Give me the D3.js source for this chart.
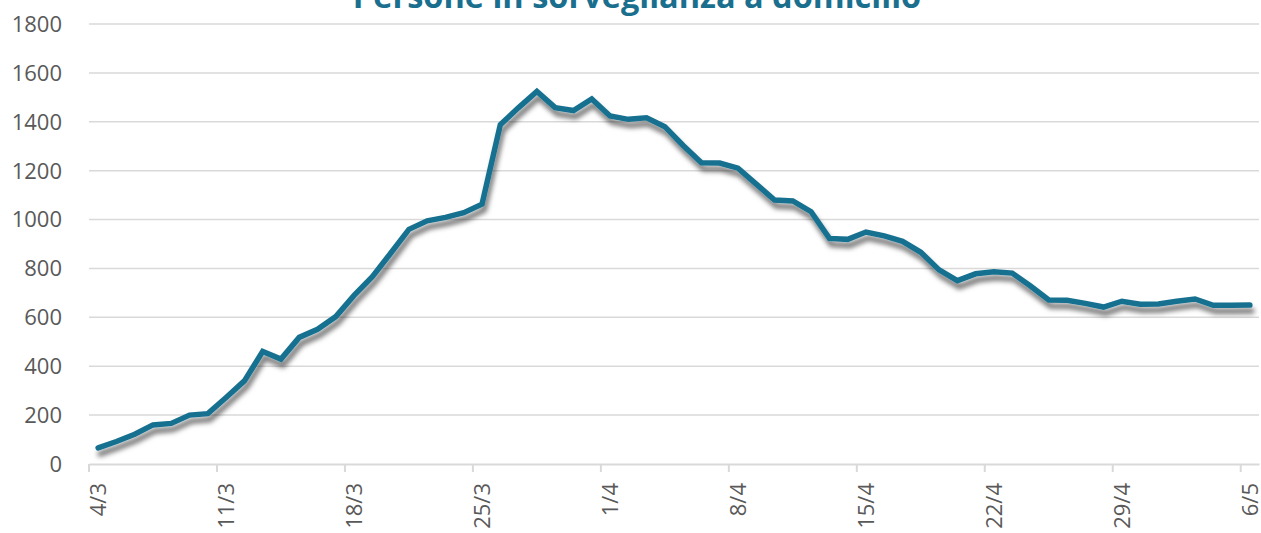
<!DOCTYPE html>
<html>
<head>
<meta charset="utf-8">
<script src="https://cdn.jsdelivr.net/npm/d3@7/dist/d3.min.js"></script>
<style>
  html, body { margin: 0; padding: 0; background: #ffffff; }
  svg { display: block; }
</style>
</head>
<body>
<svg id="chart" width="1261" height="533"></svg>
<script>
const title = "Persone in sorveglianza a domicilio";

const dates = [
  "4/3","5/3","6/3","7/3","8/3","9/3","10/3","11/3","12/3","13/3","14/3","15/3","16/3","17/3",
  "18/3","19/3","20/3","21/3","22/3","23/3","24/3","25/3","26/3","27/3","28/3","29/3","30/3","31/3",
  "1/4","2/4","3/4","4/4","5/4","6/4","7/4","8/4","9/4","10/4","11/4","12/4","13/4","14/4",
  "15/4","16/4","17/4","18/4","19/4","20/4","21/4","22/4","23/4","24/4","25/4","26/4","27/4","28/4",
  "29/4","30/4","1/5","2/5","3/5","4/5","5/5","6/5"
];

const values = [
  66, 92, 122, 160, 166, 200, 206, 272, 340, 460, 429, 518, 551, 603,
  690, 766, 862, 960, 995, 1009, 1028, 1063, 1388, 1458, 1524, 1458, 1446, 1493,
  1424, 1410, 1416, 1380, 1303, 1232, 1231, 1210, 1145, 1080, 1076, 1032, 923, 919,
  949, 933, 911, 866, 794, 750, 778, 786, 781, 728, 671, 670, 657, 642,
  666, 654, 655, 666, 675, 649, 649, 650
];

const yTicks = [0, 200, 400, 600, 800, 1000, 1200, 1400, 1600, 1800];
const xLabels = ["4/3","11/3","18/3","25/3","1/4","8/4","15/4","22/4","29/4","6/5"];

const svg = d3.select("#chart");
const margin = { left: 89, right: 2, top: 24, bottom: 69 };
const W = 1261, H = 533;

const x = d3.scaleBand().domain(dates).range([margin.left, W - margin.right]).paddingInner(0).paddingOuter(0);
const y = d3.scaleLinear().domain([0, 1800]).range([H - margin.bottom, margin.top]);

const defs = svg.append("defs");
const f = defs.append("filter").attr("id", "shadow")
  .attr("x", "-5%").attr("y", "-10%").attr("width", "110%").attr("height", "125%");
f.append("feDropShadow").attr("dx", 2).attr("dy", 6).attr("stdDeviation", 2.6)
  .attr("flood-color", "#000").attr("flood-opacity", 0.55);

const gridColor = "#d9d9d9";
const textColor = "#595959";
const font = "'Open Sans', 'Noto Sans', sans-serif";

// Gridlines
svg.append("g").selectAll("line").data(yTicks.filter(d => d > 0)).join("line")
  .attr("x1", margin.left).attr("x2", W - margin.right)
  .attr("y1", d => y(d)).attr("y2", d => y(d))
  .attr("stroke", gridColor).attr("stroke-width", 1.5);

// Y axis labels
svg.append("g").selectAll("text").data(yTicks).join("text")
  .attr("x", 62).attr("y", d => y(d)).attr("dy", "0.36em")
  .attr("text-anchor", "end")
  .attr("font-family", font).attr("font-size", 22).attr("fill", textColor)
  .text(d => d);

// X axis
const xAxis = d3.axisBottom(x)
  .tickValues(xLabels)
  .tickSize(8)
  .tickSizeOuter(0)
  .tickFormat(d => d);
const gx = svg.append("g").attr("transform", `translate(0,${y(0)})`).call(xAxis);
gx.select(".domain").attr("stroke", gridColor).attr("stroke-width", 2);
gx.selectAll(".tick").attr("transform", d => `translate(${x(d)},0)`);
gx.selectAll(".tick line").attr("stroke", gridColor).attr("stroke-width", 2);
gx.selectAll(".tick text")
  .attr("font-family", font).attr("font-size", 22).attr("fill", textColor)
  .attr("text-anchor", "end")
  .attr("transform", `translate(${x.bandwidth()/2},19) rotate(-90)`)
  .attr("x", 0).attr("y", 0).attr("dy", "0.36em");

// Line
const line = d3.line()
  .x((d, i) => x(dates[i]) + x.bandwidth() / 2)
  .y(d => y(d));

svg.append("path")
  .datum(values)
  .attr("d", line)
  .attr("fill", "none")
  .attr("stroke", "#18708f")
  .attr("stroke-width", 5.5)
  .attr("stroke-linejoin", "miter")
  .attr("stroke-linecap", "round")
  .attr("filter", "url(#shadow)");

// Title
svg.append("text")
  .attr("x", 637).attr("y", 8)
  .attr("text-anchor", "middle")
  .attr("font-family", font).attr("font-weight", "bold")
  .attr("font-size", 32.5).attr("fill", "#1a6f8e")
  .text(title);
</script>
</body>
</html>
